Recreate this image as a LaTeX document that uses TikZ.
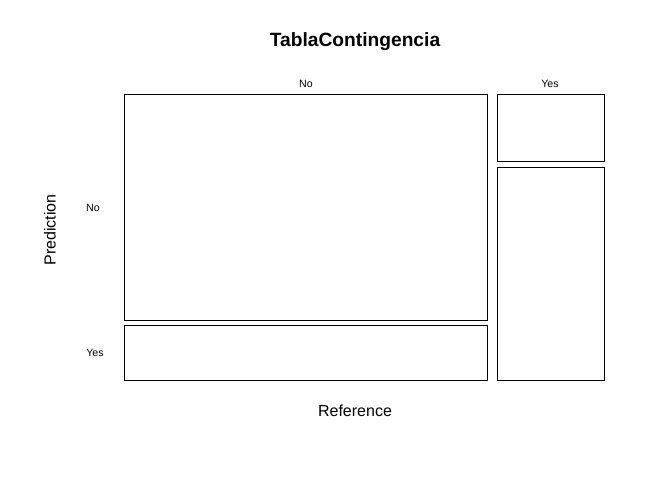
\documentclass[tikz,border=0pt]{standalone}
\usepackage{fontspec}
\setmainfont{Liberation Sans}
\tikzset{cell/.style={draw,line width=0.75pt},
  lab/.style={font=\fontsize{10.6}{12}\selectfont},
  axlab/.style={font=\fontsize{16}{18}\selectfont}}
\begin{document}
\begin{tikzpicture}[x=1pt,y=-1pt]
            \useasboundingbox (0,0) rectangle (672,480);
            \node[font=\fontsize{19.2}{22}\selectfont\bfseries] (title) at (355,42) {TablaContingencia};
            \draw[cell] (124,94) rectangle (487,320);
            \draw[cell] (124,325) rectangle (487,380);
            \draw[cell] (497,94) rectangle (604,161);
            \draw[cell] (497,167) rectangle (604,380);
            \node[lab] (refno) at (306,84) {No};
            \node[lab] (refyes) at (550,84) {Yes};
            \node[lab] (predno) at (93,208) {No};
            \node[lab] (predyes) at (95,353) {Yes};
            \node[axlab] (xlab) at (355,411) {Reference};
            \node[axlab,rotate=90] (ylab) at (50,230) {Prediction};
        \end{tikzpicture}
\end{document}
